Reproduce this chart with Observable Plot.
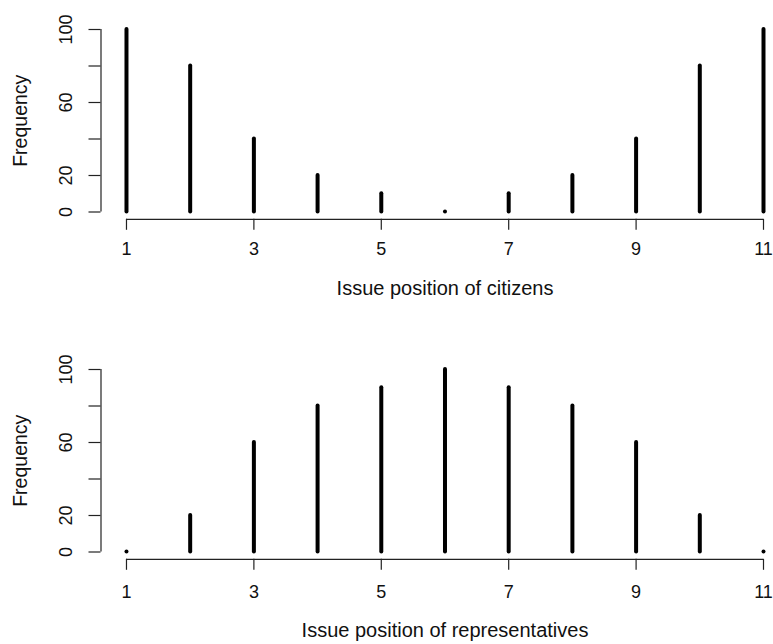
<!DOCTYPE html>
<html>
<head>
<meta charset="utf-8">
<script src="https://cdn.jsdelivr.net/npm/d3@7"></script>
<script src="https://cdn.jsdelivr.net/npm/@observablehq/plot@0.6"></script>
<style>
  html, body { margin: 0; padding: 0; background: #fff; }
  #chart { width: 773px; }
  #chart svg { display: block; }
  #chart svg text { font-size: 18px !important; }
  #chart svg g.xttl text { font-size: 20px !important; }
  #chart svg g.yttl text { font-size: 19.5px !important; }
</style>
</head>
<body>
<div id="chart"></div>
<script>
// ---- data ----
const positions = [1, 2, 3, 4, 5, 6, 7, 8, 9, 10, 11];
const citizens = [100, 80, 40, 20, 10, 0, 10, 20, 40, 80, 100];
const representatives = [0, 20, 60, 80, 90, 100, 90, 80, 60, 20, 0];
const xTicks = [1, 3, 5, 7, 9, 11];
const yTicks = [0, 20, 40, 60, 80, 100];
const yLabeled = [0, 20, 60, 100];
const yTitle = "Frequency";
const xTitleTop = "Issue position of citizens";
const xTitleBottom = "Issue position of representatives";

const font = "'Liberation Sans', Arial, Helvetica, sans-serif";
const xDomain = [0.6, 11.157];
const yDomain = [-4, 104];
const xMid = (d3.min(positions) + d3.max(positions)) / 2;

function panel(values, title, height, labelPad, titleDy) {
  const data = positions.map((p, i) => ({p, v: values[i]}));
  return Plot.plot({
    width: 773,
    height,
    marginLeft: 100.5,
    marginRight: 0,
    marginTop: 21.7,
    marginBottom: height - 218.8,
    style: {fontFamily: font, fontSize: "18px", color: "#111", background: "#fff"},
    x: {domain: xDomain},
    y: {domain: yDomain},
    marks: [
      Plot.ruleY([yDomain[0]], {x1: d3.min(xTicks), x2: d3.max(xTicks), stroke: "#222", strokeWidth: 1.2}),
      Plot.ruleX([xDomain[0]], {y1: d3.min(yTicks), y2: d3.max(yTicks), stroke: "#222", strokeWidth: 1.2}),
      Plot.axisX({
        ticks: xTicks, tickSize: 11, tickPadding: labelPad, tickFormat: d => String(d),
        label: null, stroke: "#222", strokeWidth: 1.2, fontSize: 18
      }),
      Plot.axisY({
        ticks: yTicks, tickSize: 12, tickPadding: 17, tickRotate: -90,
        tickFormat: d => yLabeled.includes(d) ? String(d) : "",
        label: null, stroke: "#222", strokeWidth: 1.2, fontSize: 18
      }),
      Plot.ruleX(data, {x: "p", y1: 0, y2: "v", stroke: "#000", strokeWidth: 4, strokeLinecap: "round"}),
      Plot.text([title], {
        x: xMid, frameAnchor: "bottom", lineAnchor: "bottom", dy: titleDy,
        fontSize: 20, fill: "#111", text: d => d, className: "xttl"
      }),
      Plot.text([yTitle], {
        frameAnchor: "left", dx: -80, rotate: -90, textAnchor: "middle", lineAnchor: "middle",
        fontSize: 19.5, fill: "#111", text: d => d, className: "yttl"
      })
    ]
  });
}

const chart = document.getElementById("chart");
chart.appendChild(panel(citizens, xTitleTop, 340, 12, 76));
chart.appendChild(panel(representatives, xTitleBottom, 304, 15, 78));
</script>
</body>
</html>
